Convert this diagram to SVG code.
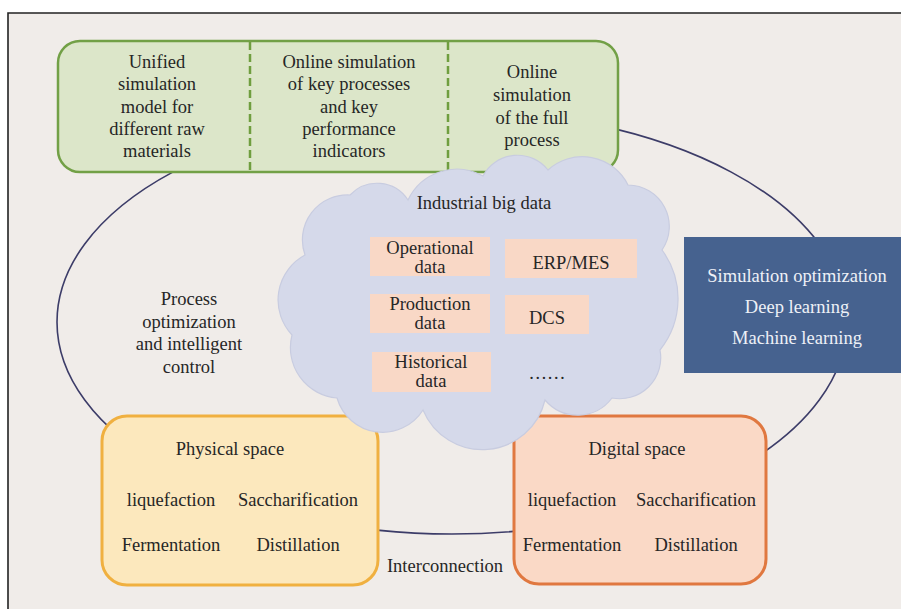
<svg xmlns="http://www.w3.org/2000/svg" width="901" height="609" viewBox="0 0 901 609">
<style>
text{font-family:"Liberation Serif","Times New Roman",serif;font-size:18.5px;fill:#262626;text-anchor:middle}
.w{fill:#eef1f7}
.rect{fill:#f9d8c6}
</style>
<rect x="0" y="0" width="901" height="609" fill="#ffffff"/>
<rect x="8" y="13" width="893" height="596" fill="#f0ece9"/>
<path d="M8,609 V13 H901" fill="none" stroke="#222" stroke-width="1.6"/>
<g id="connectors">
<ellipse cx="452" cy="322" rx="395" ry="212" fill="none" stroke="#3c3c68" stroke-width="1.6"/>
</g>
<g id="label-process">
<text x="189" y="305">Process</text>
<text x="189" y="328">optimization</text>
<text x="189" y="350">and intelligent</text>
<text x="189" y="373">control</text>
</g>
<g id="top-box">
<rect x="58" y="41" width="560" height="131" rx="22" fill="#dce6c9" stroke="#72a046" stroke-width="2.5"/>
<line x1="250" y1="42" x2="250" y2="171" stroke="#6f9e3f" stroke-width="2.5" stroke-dasharray="8 4"/>
<line x1="448" y1="42" x2="448" y2="171" stroke="#6f9e3f" stroke-width="2.5" stroke-dasharray="8 4"/>
<text x="157" y="68">Unified</text>
<text x="157" y="90">simulation</text>
<text x="157" y="113">model for</text>
<text x="157" y="135">different raw</text>
<text x="157" y="157">materials</text>
<text x="349" y="68">Online simulation</text>
<text x="349" y="90">of key processes</text>
<text x="349" y="113">and key</text>
<text x="349" y="135">performance</text>
<text x="349" y="157">indicators</text>
<text x="532" y="78">Online</text>
<text x="532" y="101">simulation</text>
<text x="532" y="124">of the full</text>
<text x="532" y="146">process</text>
</g>
<g id="methods">
<rect x="684" y="237" width="217" height="136" fill="#46628f"/>
<text class="w" x="797" y="282">Simulation optimization</text>
<text class="w" x="797" y="313">Deep learning</text>
<text class="w" x="797" y="344">Machine learning</text>
</g>
<g id="physical-space">
<rect x="102" y="416" width="276" height="169" rx="25" fill="#fce8bd" stroke="#f0b040" stroke-width="3"/>
<text x="230" y="455">Physical space</text>
<text x="171" y="506">liquefaction</text>
<text x="298" y="506">Saccharification</text>
<text x="171" y="551">Fermentation</text>
<text x="298" y="551">Distillation</text>
</g>
<g id="digital-space">
<rect x="514" y="416" width="252" height="168" rx="25" fill="#fad9c6" stroke="#e07840" stroke-width="3"/>
<text x="637" y="455">Digital space</text>
<text x="572" y="506">liquefaction</text>
<text x="696" y="506">Saccharification</text>
<text x="572" y="551">Fermentation</text>
<text x="696" y="551">Distillation</text>
</g>
<g id="interconnection">
<text x="445" y="572">Interconnection</text>
</g>
<g id="big-data">
<path d="M408,200 A54,54 0 0 1 483,176 A39,39 0 0 1 548,170 A51,51 0 0 1 628,185 A41.5,41.5 0 0 1 662,250 A82,82 0 0 1 660,350 A41,41 0 0 1 612,398 A43,43 0 0 1 545,400 A64.3,64.3 0 0 1 423,410 A47.6,47.6 0 0 1 337,398 A50.6,50.6 0 0 1 292,335 A51,51 0 0 1 305,255 A45,45 0 0 1 350,195 A37,37 0 0 1 408,200 Z" fill="#d5d9ea" stroke="#c8cce0" stroke-width="1.2"/>
<text x="484" y="209">Industrial big data</text>
<rect class="rect" x="370" y="237" width="120" height="39"/>
<text x="430" y="254">Operational</text>
<text x="430" y="273">data</text>
<rect class="rect" x="505" y="239" width="132" height="39"/>
<text x="571" y="269">ERP/MES</text>
<rect class="rect" x="370" y="294" width="120" height="39"/>
<text x="430" y="310">Production</text>
<text x="430" y="329">data</text>
<rect class="rect" x="505" y="295" width="84" height="39"/>
<text x="547" y="324">DCS</text>
<rect class="rect" x="372" y="352" width="119" height="40"/>
<text x="431" y="368">Historical</text>
<text x="431" y="387">data</text>
<text x="547" y="379">……</text>
</g>
</svg>
